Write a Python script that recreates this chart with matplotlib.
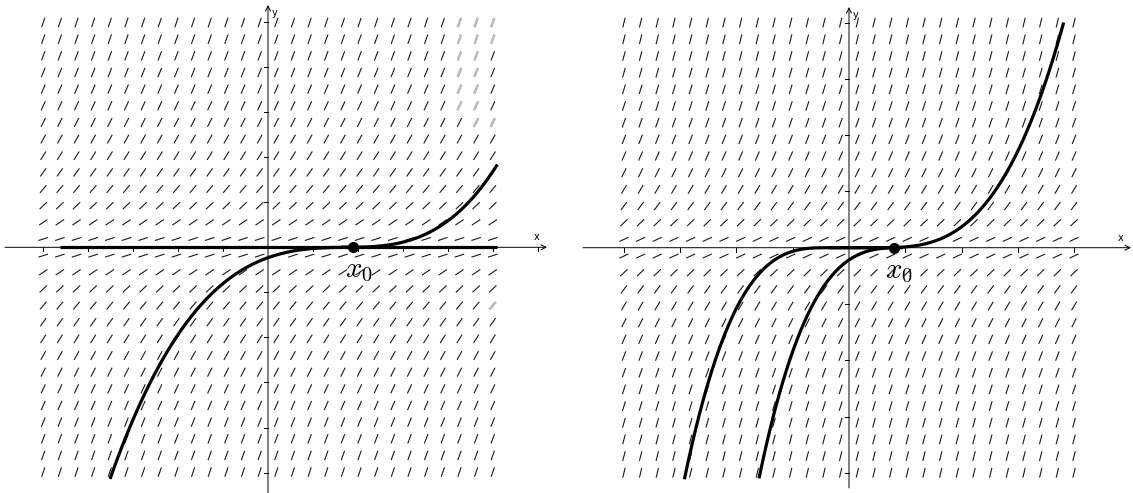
import numpy as np
import matplotlib
matplotlib.use("Agg")
import matplotlib.pyplot as plt
from matplotlib.collections import LineCollection

plt.rcParams["mathtext.fontset"] = "cm"

# slope field layout (same for both panels)
GRID_N = 28
SEG_PX = 10.0

# left panel: y' = K*|y|^(2/3), one solution leaves the axis later
LEFT_PX_PER_UNIT = 45.06
LEFT_GRID_STEP = 0.3695
LEFT_FIELD_K = 1.0
LEFT_X0 = 1.89
LEFT_CURVE_SHIFT = [1.93, 1.62]
LEFT_CURVE_SCALE = [0.032, 0.044]
LEFT_CURVE_SIDE = [-1, 1]
LEFT_CURVE_FROM = [-3.506, 1.62]
LEFT_CURVE_TO = [1.93, 5.089]
LEFT_ZERO_LINE = [-4.62, 5.09]
# blurred segments in the top right of the left field (col, row from top)
LEFT_FADED = [(25, 0), (26, 0), (27, 0), (25, 1), (26, 1), (27, 1),
              (25, 2), (26, 2), (25, 3), (26, 3), (25, 4), (26, 4),
              (25, 5), (26, 5), (26, 6), (27, 6), (27, 17)]

# right panel
RIGHT_PX_PER_UNIT = 56.3
RIGHT_GRID_STEP = 0.2961
RIGHT_FIELD_K = 1.65
RIGHT_X0 = 0.805
RIGHT_CURVE_SHIFT = [-0.36, 0.962, 0.5]
RIGHT_CURVE_SCALE = [0.244, 0.244, 0.11]
RIGHT_CURVE_SIDE = [-1, -1, 1]
RIGHT_CURVE_FROM = [-2.924, -1.599, -0.36]
RIGHT_CURVE_TO = [0.5, 0.962, 3.813]


def draw_field(ax, step, k, px_per_unit, faded=()):
    half = SEG_PX / 2 / px_per_unit
    segs, gray = [], []
    for i in range(GRID_N):
        x = (i - (GRID_N - 1) / 2) * step
        for j in range(GRID_N):
            y = ((GRID_N - 1) / 2 - j) * step
            ang = np.arctan(k * np.abs(y) ** (2 / 3))
            dx, dy = half * np.cos(ang), half * np.sin(ang)
            seg = [(x - dx, y - dy), (x + dx, y + dy)]
            if (i, j) in faded:
                gray.append(seg)
            else:
                segs.append(seg)
    ax.add_collection(LineCollection(segs, colors="#1a1a1a", linewidths=0.8))
    if gray:
        ax.add_collection(LineCollection(gray, colors="#b8b8b8", linewidths=1.8))


def draw_axes(ax, xr, yr, xticks, yticks, px_per_unit):
    arrow = dict(arrowstyle="->", lw=0.7, color="black",
                 shrinkA=0, shrinkB=0, mutation_scale=9)
    ax.annotate("", xy=(xr[1], 0), xytext=(xr[0], 0), arrowprops=arrow)
    ax.annotate("", xy=(0, yr[1]), xytext=(0, yr[0]), arrowprops=arrow)
    t = 4 / px_per_unit
    for v in xticks:
        ax.plot([v, v], [0, -t], color="black", lw=0.7)
    for v in yticks:
        ax.plot([-t, 0], [v, v], color="black", lw=0.7)
    ax.text(xr[1] - 10 / px_per_unit, 5 / px_per_unit, "x", fontsize=7,
            ha="center", va="bottom")
    ax.text(7 / px_per_unit, yr[1] - 8 / px_per_unit, "y", fontsize=7,
            ha="center", va="center")


def draw_curves(ax, shifts, scales, sides, starts, ends):
    for c, a, s, x_a, x_b in zip(shifts, scales, sides, starts, ends):
        x = np.linspace(x_a, x_b, 400)
        d = x - c
        d = np.minimum(d, 0) if s < 0 else np.maximum(d, 0)
        ax.plot(x, a * d ** 3, color="black", lw=2.3, solid_capstyle="butt")


def setup(fig, box_px, origin_px, px_per_unit):
    x0, x1 = box_px
    ax = fig.add_axes([x0 / 1133, 0, (x1 - x0) / 1133, 1])
    ox, oy = origin_px
    ax.set_xlim((x0 - ox) / px_per_unit, (x1 - ox) / px_per_unit)
    ax.set_ylim(-(493 - oy) / px_per_unit, oy / px_per_unit)
    ax.axis("off")
    return ax


fig = plt.figure(figsize=(11.33, 4.93), dpi=100)

# left panel
s = LEFT_PX_PER_UNIT
ax1 = setup(fig, (0, 560), (268, 247.3), s)
draw_field(ax1, LEFT_GRID_STEP, LEFT_FIELD_K, s, LEFT_FADED)
draw_axes(ax1, ((5 - 268) / s, (547 - 268) / s), (-(493 - 247.3) / s, (247.3 - 5) / s),
          [v for v in range(-5, 7) if v], [v for v in range(-5, 6) if v], s)
ax1.plot(LEFT_ZERO_LINE, [0, 0], color="black", lw=2.3, solid_capstyle="butt")
draw_curves(ax1, LEFT_CURVE_SHIFT, LEFT_CURVE_SCALE, LEFT_CURVE_SIDE,
            LEFT_CURVE_FROM, LEFT_CURVE_TO)
ax1.plot([LEFT_X0], [0], "o", color="black", markersize=7)
ax1.text(LEFT_X0 + 6 / s, -23 / s, r"$x_0$", fontsize=21, ha="center", va="center")

# right panel
s = RIGHT_PX_PER_UNIT
ax2 = setup(fig, (570, 1133), (849, 247.7), s)
draw_field(ax2, RIGHT_GRID_STEP, RIGHT_FIELD_K, s)
draw_axes(ax2, ((583 - 849) / s, (1131 - 849) / s), (-(488 - 247.7) / s, (247.7 - 7) / s),
          [v for v in range(-4, 5) if v], [v for v in range(-4, 5) if v], s)
draw_curves(ax2, RIGHT_CURVE_SHIFT, RIGHT_CURVE_SCALE, RIGHT_CURVE_SIDE,
            RIGHT_CURVE_FROM, RIGHT_CURVE_TO)
ax2.plot([RIGHT_X0], [0], "o", color="black", markersize=7)
ax2.text(RIGHT_X0 + 5 / s, -23 / s, r"$x_0$", fontsize=21, ha="center", va="center")

fig.savefig("out.png", dpi=100)
